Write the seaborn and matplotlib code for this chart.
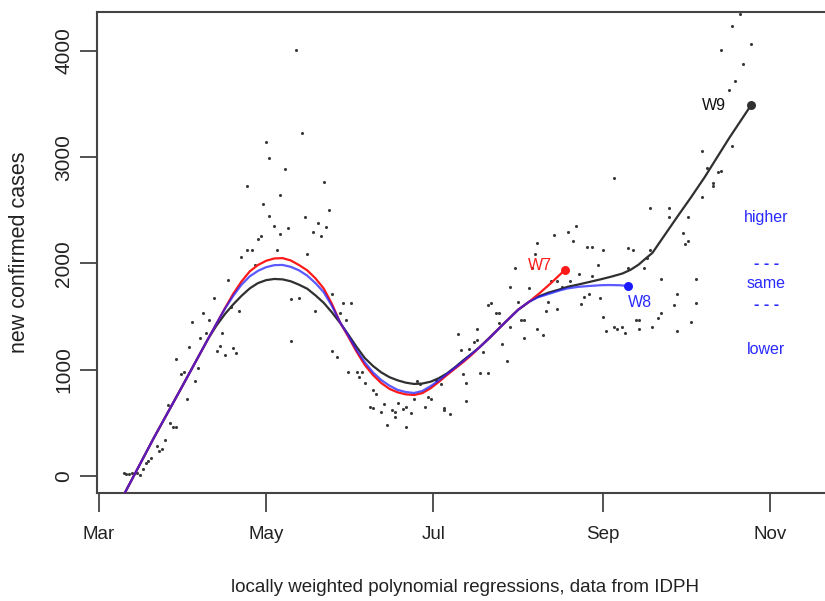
import matplotlib
matplotlib.use("Agg")
import matplotlib.pyplot as plt
import seaborn as sns
import pandas as pd

# ---------------- data (days since Mar 1, 2020) ----------------
obs_day = [9, 10, 11, 12, 14, 15, 16, 17, 18, 19,
           21, 22, 23, 24, 25, 26, 27, 28, 28, 30,
           31, 32, 33, 34, 35, 36, 37, 38, 39, 40,
           42, 43, 44, 45, 46, 47, 48, 49, 50, 51,
           52, 54, 54, 56, 57, 58, 59, 60, 61, 62,
           62, 64, 65, 66, 66, 68, 69, 70, 70, 72,
           73, 74, 75, 76, 78, 79, 80, 81, 82, 83,
           84, 85, 85, 87, 88, 89, 90, 91, 92, 94,
           95, 96, 97, 99, 100, 100, 101, 103, 104, 105,
           107, 108, 108, 109, 111, 112, 112, 114, 115, 116,
           117, 119, 120, 121, 123, 125, 126, 126, 128, 131,
           132, 133, 134, 134, 135, 137, 138, 138, 139, 140,
           142, 142, 143, 145, 146, 146, 147, 149, 150, 150,
           152, 153, 154, 155, 155, 157, 158, 159, 160, 160,
           162, 163, 164, 165, 166, 167, 167, 169, 171, 172,
           173, 174, 175, 176, 177, 178, 179, 180, 180, 182,
           183, 184, 184, 185, 188, 188, 189, 191, 192, 193,
           193, 195, 196, 197, 197, 199, 200, 201, 201, 202,
           204, 205, 205, 208, 208, 210, 211, 211, 213, 214,
           215, 215, 216, 218, 218, 220, 220, 222, 224, 224,
           226, 227, 227, 230, 231, 231, 232, 234, 235, 238]
obs_cases = [28, 19, 19, 28, 28, 9, 66, 122, 141, 169,
             282, 235, 254, 339, 668, 499, 461, 461, 1101, 960,
             979, 725, 1214, 1449, 894, 1016, 1299, 1534, 1346, 1468,
             1675, 1176, 1223, 1346, 1139, 1844, 1590, 1204, 1157, 1553,
             2061, 2729, 2127, 2127, 1986, 2230, 2258, 2560, 3143, 2447,
             2992, 2353, 2127, 2277, 2644, 2889, 2334, 1666, 1270, 4009,
             1675, 3228, 2437, 2089, 2296, 1553, 2381, 2258, 2767, 2343,
             2503, 1713, 1176, 1120, 1534, 1628, 1468, 979, 1628, 979,
             932, 979, 875, 649, 809, 640, 772, 602, 678, 480,
             621, 555, 602, 687, 630, 649, 461, 593, 725, 894,
             866, 649, 743, 725, 903, 866, 640, 621, 583, 1336,
             1186, 960, 875, 706, 1195, 1261, 1383, 1280, 969, 1167,
             969, 1609, 1628, 1534, 1440, 1534, 1242, 1082, 1402, 1778,
             1957, 1637, 1468, 1468, 1299, 1769, 1957, 2089, 2193, 1383,
             1327, 1553, 1637, 1835, 2268, 1835, 1571, 1778, 2296, 1835,
             2211, 2353, 1901, 1619, 1684, 2155, 1713, 2155, 1882, 1986,
             1675, 1496, 2127, 1364, 2804, 1402, 1383, 1402, 1346, 1957,
             2145, 2127, 1468, 1383, 1468, 1957, 2051, 2127, 2522, 1402,
             1487, 1534, 1854, 2522, 2437, 1609, 1713, 1364, 2287, 2183,
             2211, 2437, 1449, 1854, 1628, 2625, 3058, 2898, 2757, 2729,
             2861, 2870, 4009, 3632, 4235, 3105, 3717, 4347, 3877, 4065]

# loess fits of three successive weeks
w7_day = [9, 20, 30, 40, 43, 46, 49, 52, 55, 58, 61, 64, 67, 70, 73, 76,
          79, 82, 85, 88, 91, 94, 97, 100, 103, 106, 109, 112, 115, 118,
          121, 124, 127, 130, 133, 136, 139, 143, 147, 150, 153, 157, 161,
          165, 170]
w7_val = [-180, 358, 826, 1299, 1440, 1580, 1715, 1830, 1925, 1985, 2025,
          2047, 2050, 2028, 1985, 1935, 1860, 1765, 1620, 1445, 1310, 1170,
          1045, 950, 875, 820, 787, 768, 762, 780, 825, 885, 950, 1012, 1073,
          1140, 1214, 1310, 1415, 1490, 1565, 1640, 1725, 1816, 1938]

w8_day = [9, 20, 30, 40, 43, 46, 49, 52, 55, 58, 61, 64, 67, 70, 73, 76,
          79, 82, 85, 88, 91, 94, 97, 100, 103, 106, 109, 112, 115, 118,
          121, 124, 127, 130, 133, 136, 139, 143, 147, 150, 153, 157, 160,
          164, 168, 171, 175, 179, 183, 186, 190, 193]
w8_val = [-180, 358, 826, 1299, 1440, 1575, 1695, 1800, 1878, 1930, 1965,
          1984, 1986, 1968, 1935, 1885, 1815, 1730, 1600, 1445, 1320, 1185,
          1070, 975, 903, 850, 810, 790, 781, 800, 845, 900, 960, 1020, 1082,
          1148, 1214, 1310, 1415, 1490, 1565, 1640, 1680, 1712, 1745, 1765,
          1780, 1788, 1795, 1797, 1795, 1788]

w9_day = [9, 20, 30, 40, 43, 46, 49, 52, 55, 58, 61, 64, 67, 70, 73, 76,
          79, 82, 85, 88, 91, 94, 97, 100, 103, 106, 109, 112, 115, 118,
          121, 124, 127, 130, 133, 136, 139, 143, 147, 150, 153, 157, 160,
          164, 168, 171, 175, 179, 183, 187, 191, 194, 197, 199, 202, 206,
          211, 216, 221, 230, 238]
w9_val = [-180, 358, 826, 1299, 1420, 1525, 1615, 1695, 1765, 1815, 1843,
          1854, 1850, 1832, 1800, 1762, 1700, 1630, 1540, 1440, 1330, 1215,
          1110, 1035, 975, 930, 900, 878, 866, 870, 887, 920, 965, 1025,
          1090, 1150, 1214, 1315, 1415, 1490, 1565, 1640, 1685, 1725, 1755,
          1780, 1802, 1826, 1850, 1876, 1905, 1940, 1990, 2035, 2100, 2250,
          2437, 2620, 2810, 3180, 3490]

month_ticks = [0, 61, 122, 184, 245]
month_labels = ["Mar", "May", "Jul", "Sep", "Nov"]
case_ticks = [0, 1000, 2000, 3000, 4000]

side_labels = ["higher", "- - -", "same", "- - -", "lower"]
side_levels = [2437, 2004, 1816, 1609, 1186]

# ---------------- plot ----------------
sns.set_style("white")
FONT = ['Liberation Sans', 'DejaVu Sans']
plt.rcParams['font.family'] = FONT

W, H = 825, 601
fig = plt.figure(figsize=(W / 100, H / 100), dpi=100)
L, R, T, B = 97, 833, 12, 493
ax = fig.add_axes([L / W, 1 - B / H, (R - L) / W, (B - T) / H])

obs = pd.DataFrame({"day": obs_day, "cases": obs_cases})
sns.scatterplot(data=obs, x="day", y="cases", ax=ax, s=5, color="#3a3a3a",
                linewidth=0, zorder=2)

for d, v, col, a, lab, lpos, lcol in [
    (w9_day, w9_val, "#303030", 1.0, "W9", (224.5, 3482), "#111111"),
    (w7_day, w7_val, "#ff1a1a", 1.0, "W7", (161.0, 1976), "#ff1a1a"),
    (w8_day, w8_val, "#1a1aff", 0.72, "W8", (197.5, 1628), "#2a2aff"),
]:
    sns.lineplot(x=d, y=v, ax=ax, color=col, alpha=a, linewidth=1.6,
                 estimator=None, sort=False, zorder=3)
    sns.scatterplot(x=[d[-1]], y=[v[-1]], ax=ax, color=col, s=42,
                    linewidth=0, zorder=4)
    ax.text(lpos[0], lpos[1], lab, color=lcol, fontsize=11.5, ha="center",
            va="center")

for lab, lev in zip(side_labels, side_levels):
    ax.text(243.5, lev, lab, color="#2a2aff", fontsize=11.5, ha="center",
            va="center",
            fontweight="bold" if lab.startswith("-") else "normal")

ax.set_xlim((L - 99) / 2.74, (R - 99) / 2.74)
ax.set_ylim(-160, 4366)

ax.set_xticks(month_ticks)
ax.set_xticklabels(month_labels, fontsize=13.5)
ax.set_yticks(case_ticks)
ax.set_yticklabels([str(t) for t in case_ticks], fontsize=15, rotation=90,
                   va="center")
ax.tick_params(axis="x", direction="out", length=14, width=1.3,
               color="#444444", pad=10, labelcolor="#222222")
ax.tick_params(axis="y", direction="out", length=12, width=1.3,
               color="#444444", pad=5, labelcolor="#222222")
ax.xaxis.set_ticks_position("bottom")
ax.yaxis.set_ticks_position("left")

for sp in ax.spines.values():
    sp.set_color("#444444")
    sp.set_linewidth(1.5)
    sp.set_visible(True)

ax.set_xlabel("locally weighted polynomial regressions, data from IDPH",
              fontsize=13.5, color="#222222")
ax.xaxis.set_label_coords(0.5, (H - 588 - (H - B)) / (B - T))
ax.xaxis.label.set_va("center")
ax.set_ylabel("new confirmed cases", fontsize=15.5, color="#222222")
ax.yaxis.set_label_coords((20 - L) / (R - L), 0.5)
ax.yaxis.label.set_va("center")
ax.yaxis.label.set_ha("center")

fig.savefig("out.png", dpi=100)
